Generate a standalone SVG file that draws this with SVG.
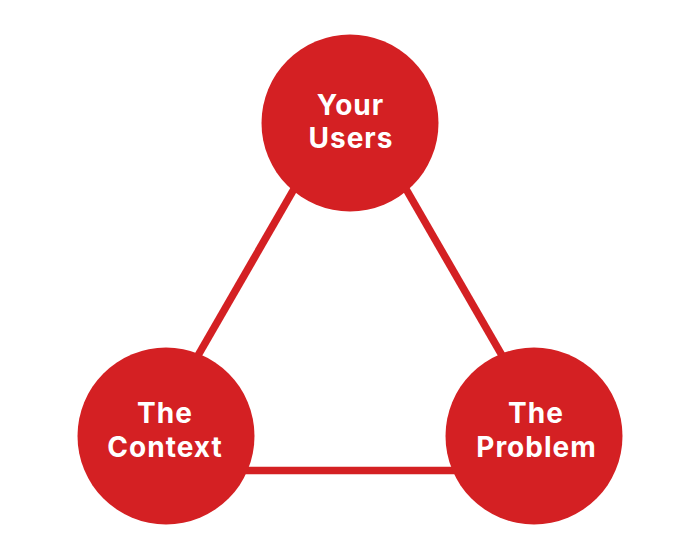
<svg xmlns="http://www.w3.org/2000/svg" width="700" height="560" viewBox="0 0 700 560">
<style>
.edge{stroke:#D42023;stroke-width:7.5;fill:none;stroke-linecap:butt}
.node circle{fill:#D42023}
.node text{fill:#FFFFFF;font-family:Inter,"Open Sans","Liberation Sans",sans-serif;font-weight:700;font-size:28px;letter-spacing:1px;text-anchor:middle}
</style>
<rect width="700" height="560" fill="#FFFFFF"/>
<g id="connectors">
<line class="edge" x1="350" y1="92" x2="131.6" y2="470.5"/>
<line class="edge" x1="350" y1="92" x2="568.4" y2="470.5"/>
<line class="edge" x1="131.6" y1="470.5" x2="568.4" y2="470.5"/>
</g>
<g id="node-users" class="node">
<circle cx="350" cy="123" r="88.5"/>
<text x="350.5" y="115">Your</text>
<text x="351" y="148">Users</text>
</g>
<g id="node-context" class="node">
<circle cx="166" cy="436" r="88.5"/>
<text x="165" y="423">The</text>
<text x="165" y="457">Context</text>
</g>
<g id="node-problem" class="node">
<circle cx="534" cy="436" r="88.5"/>
<text x="536" y="423">The</text>
<text x="536.5" y="457">Problem</text>
</g>
</svg>
